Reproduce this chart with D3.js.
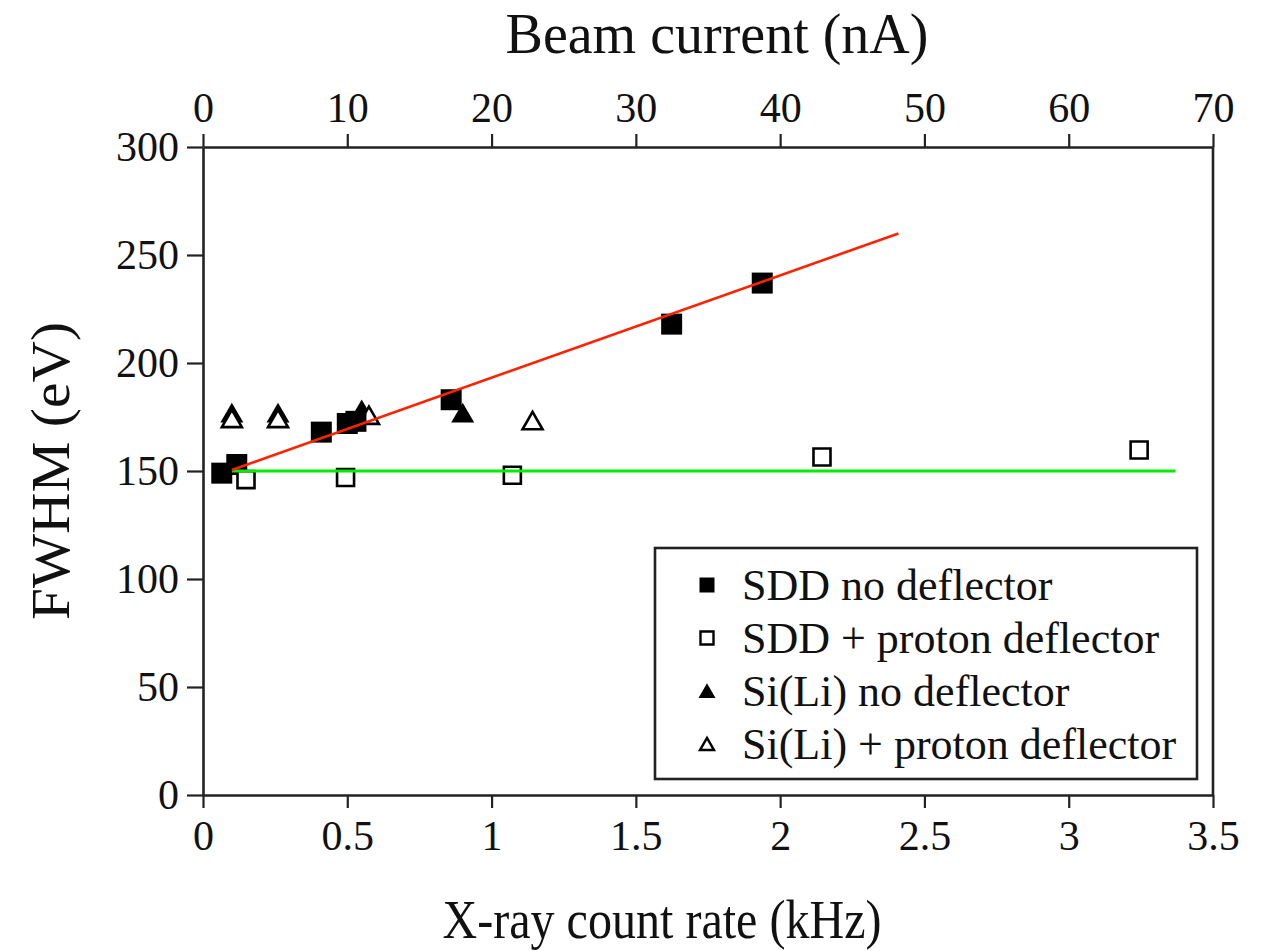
<!DOCTYPE html>
<html>
<head>
<meta charset="utf-8">
<script src="https://cdn.jsdelivr.net/npm/d3@7"></script>
<style>
  html, body { margin: 0; padding: 0; background: #fff; }
  #chart { width: 1271px; height: 951px; }
  text { font-family: "Liberation Serif", "DejaVu Serif", serif; fill: #111; }
  .axis .domain { stroke: #222; stroke-width: 2.6; }
  .axis line { stroke: #222; stroke-width: 2.2; }
  .axis text { font-size: 42px; }
</style>
</head>
<body>
<div id="chart"></div>
<script>
'use strict';

const MARGIN = { top: 147, right: 58, bottom: 156, left: 203 };
const W = 1271, H = 951;

// X-ray count rate (kHz), FWHM (eV)
const sddNoDeflector = [[0.065, 149], [0.117, 153], [0.41, 168], [0.50, 172], [0.53, 173], [0.86, 183], [1.624, 218], [1.938, 237]];
const sddDeflector   = [[0.149, 146], [0.494, 147], [1.072, 148], [2.145, 156.5], [3.244, 159.7]];
const siliNoDeflector = [[0.10, 175.5], [0.26, 175.5], [0.55, 177], [0.90, 175.5]];
const siliDeflector   = [[0.10, 173], [0.26, 173], [0.575, 174.5], [1.142, 172]];

// guide lines
const redLine   = [[0.10, 150.5], [2.41, 260]];
const greenLine = [[0.10, 150], [3.37, 150]];

const xTicks   = [0, 0.5, 1, 1.5, 2, 2.5, 3, 3.5];
const topTicks = [0, 10, 20, 30, 40, 50, 60, 70];
const yTicks   = [0, 50, 100, 150, 200, 250, 300];

const legendItems = [
  { label: 'SDD no deflector', shape: 'square', filled: true },
  { label: 'SDD + proton deflector', shape: 'square', filled: false },
  { label: 'Si(Li) no deflector', shape: 'triangle', filled: true },
  { label: 'Si(Li) + proton deflector', shape: 'triangle', filled: false },
];

const w = W - MARGIN.left - MARGIN.right;
const h = H - MARGIN.top - MARGIN.bottom;

const x = d3.scaleLinear().domain([0, 3.5]).range([0, w]);
const xTop = d3.scaleLinear().domain([0, 70]).range([0, w]);
const y = d3.scaleLinear().domain([0, 300]).range([h, 0]);

const svg = d3.select('#chart').append('svg')
  .attr('width', W).attr('height', H);

const g = svg.append('g')
  .attr('transform', `translate(${MARGIN.left},${MARGIN.top})`);

// right border
g.append('line')
  .attr('x1', w).attr('x2', w).attr('y1', 0).attr('y2', h)
  .attr('stroke', '#222').attr('stroke-width', 2.6);

g.append('g')
  .attr('class', 'axis')
  .attr('transform', `translate(0,${h})`)
  .call(d3.axisBottom(x).tickValues(xTicks).tickSize(13).tickSizeOuter(0).tickPadding(12)
    .tickFormat(d3.format('~g')));

g.append('g')
  .attr('class', 'axis')
  .call(d3.axisTop(xTop).tickValues(topTicks).tickSize(13).tickSizeOuter(0).tickPadding(12));

g.append('g')
  .attr('class', 'axis')
  .call(d3.axisLeft(y).tickValues(yTicks).tickSize(16).tickSizeOuter(0).tickPadding(8));

// side = edge length of square or triangle
const sym = (shape, side) => d3.symbol()
  .type(shape === 'square' ? d3.symbolSquare : d3.symbolTriangle)
  .size(shape === 'square' ? side * side : side * side * Math.sqrt(3) / 4)();

function drawSeries(data, shape, filled, side) {
  g.append('g').selectAll('path')
    .data(data)
    .join('path')
    .attr('transform', d => `translate(${x(d[0])},${y(d[1])})`)
    .attr('d', sym(shape, side))
    .attr('fill', filled ? '#000' : '#fff')
    .attr('stroke', '#000')
    .attr('stroke-width', filled ? 0 : 2.6);
}

drawSeries(siliNoDeflector, 'triangle', true, 23);
drawSeries(siliDeflector, 'triangle', false, 20);
drawSeries(sddNoDeflector, 'square', true, 21);
drawSeries(sddDeflector, 'square', false, 17);

const line = d3.line().x(d => x(d[0])).y(d => y(d[1]));

g.append('path').datum(greenLine)
  .attr('d', line).attr('fill', 'none')
  .attr('stroke', '#00ee00').attr('stroke-width', 3);

g.append('path').datum(redLine)
  .attr('d', line).attr('fill', 'none')
  .attr('stroke', '#ff2200').attr('stroke-width', 2.6);

// legend
const legend = svg.append('g').attr('transform', 'translate(655,548)');
legend.append('rect')
  .attr('width', 542).attr('height', 231)
  .attr('fill', '#fff').attr('stroke', '#222').attr('stroke-width', 2.6);

legendItems.forEach((item, i) => {
  const row = legend.append('g').attr('transform', `translate(0,${37 + i * 53})`);
  row.append('path')
    .attr('transform', `translate(52,${item.shape === 'triangle' ? 2 : 0})`)
    .attr('d', sym(item.shape, item.shape === 'square' ? (item.filled ? 15 : 13) : (item.filled ? 17 : 14)))
    .attr('fill', item.filled ? '#000' : '#fff')
    .attr('stroke', '#000')
    .attr('stroke-width', item.filled ? 0 : 2.4);
  row.append('text')
    .attr('x', 87).attr('y', 15)
    .style('font-size', '44px')
    .text(item.label);
});

// axis titles
svg.append('text')
  .attr('x', 717).attr('y', 53)
  .attr('text-anchor', 'middle')
  .style('font-size', '56px')
  .text('Beam current (nA)');

svg.append('text')
  .attr('x', 662).attr('y', 938)
  .attr('text-anchor', 'middle')
  .attr('textLength', 439).attr('lengthAdjust', 'spacingAndGlyphs')
  .style('font-size', '54px')
  .text('X-ray count rate (kHz)');

svg.append('text')
  .attr('transform', 'translate(69,471) rotate(-90)')
  .attr('text-anchor', 'middle')
  .attr('textLength', 298).attr('lengthAdjust', 'spacingAndGlyphs')
  .style('font-size', '54px')
  .text('FWHM (eV)');
</script>
</body>
</html>
